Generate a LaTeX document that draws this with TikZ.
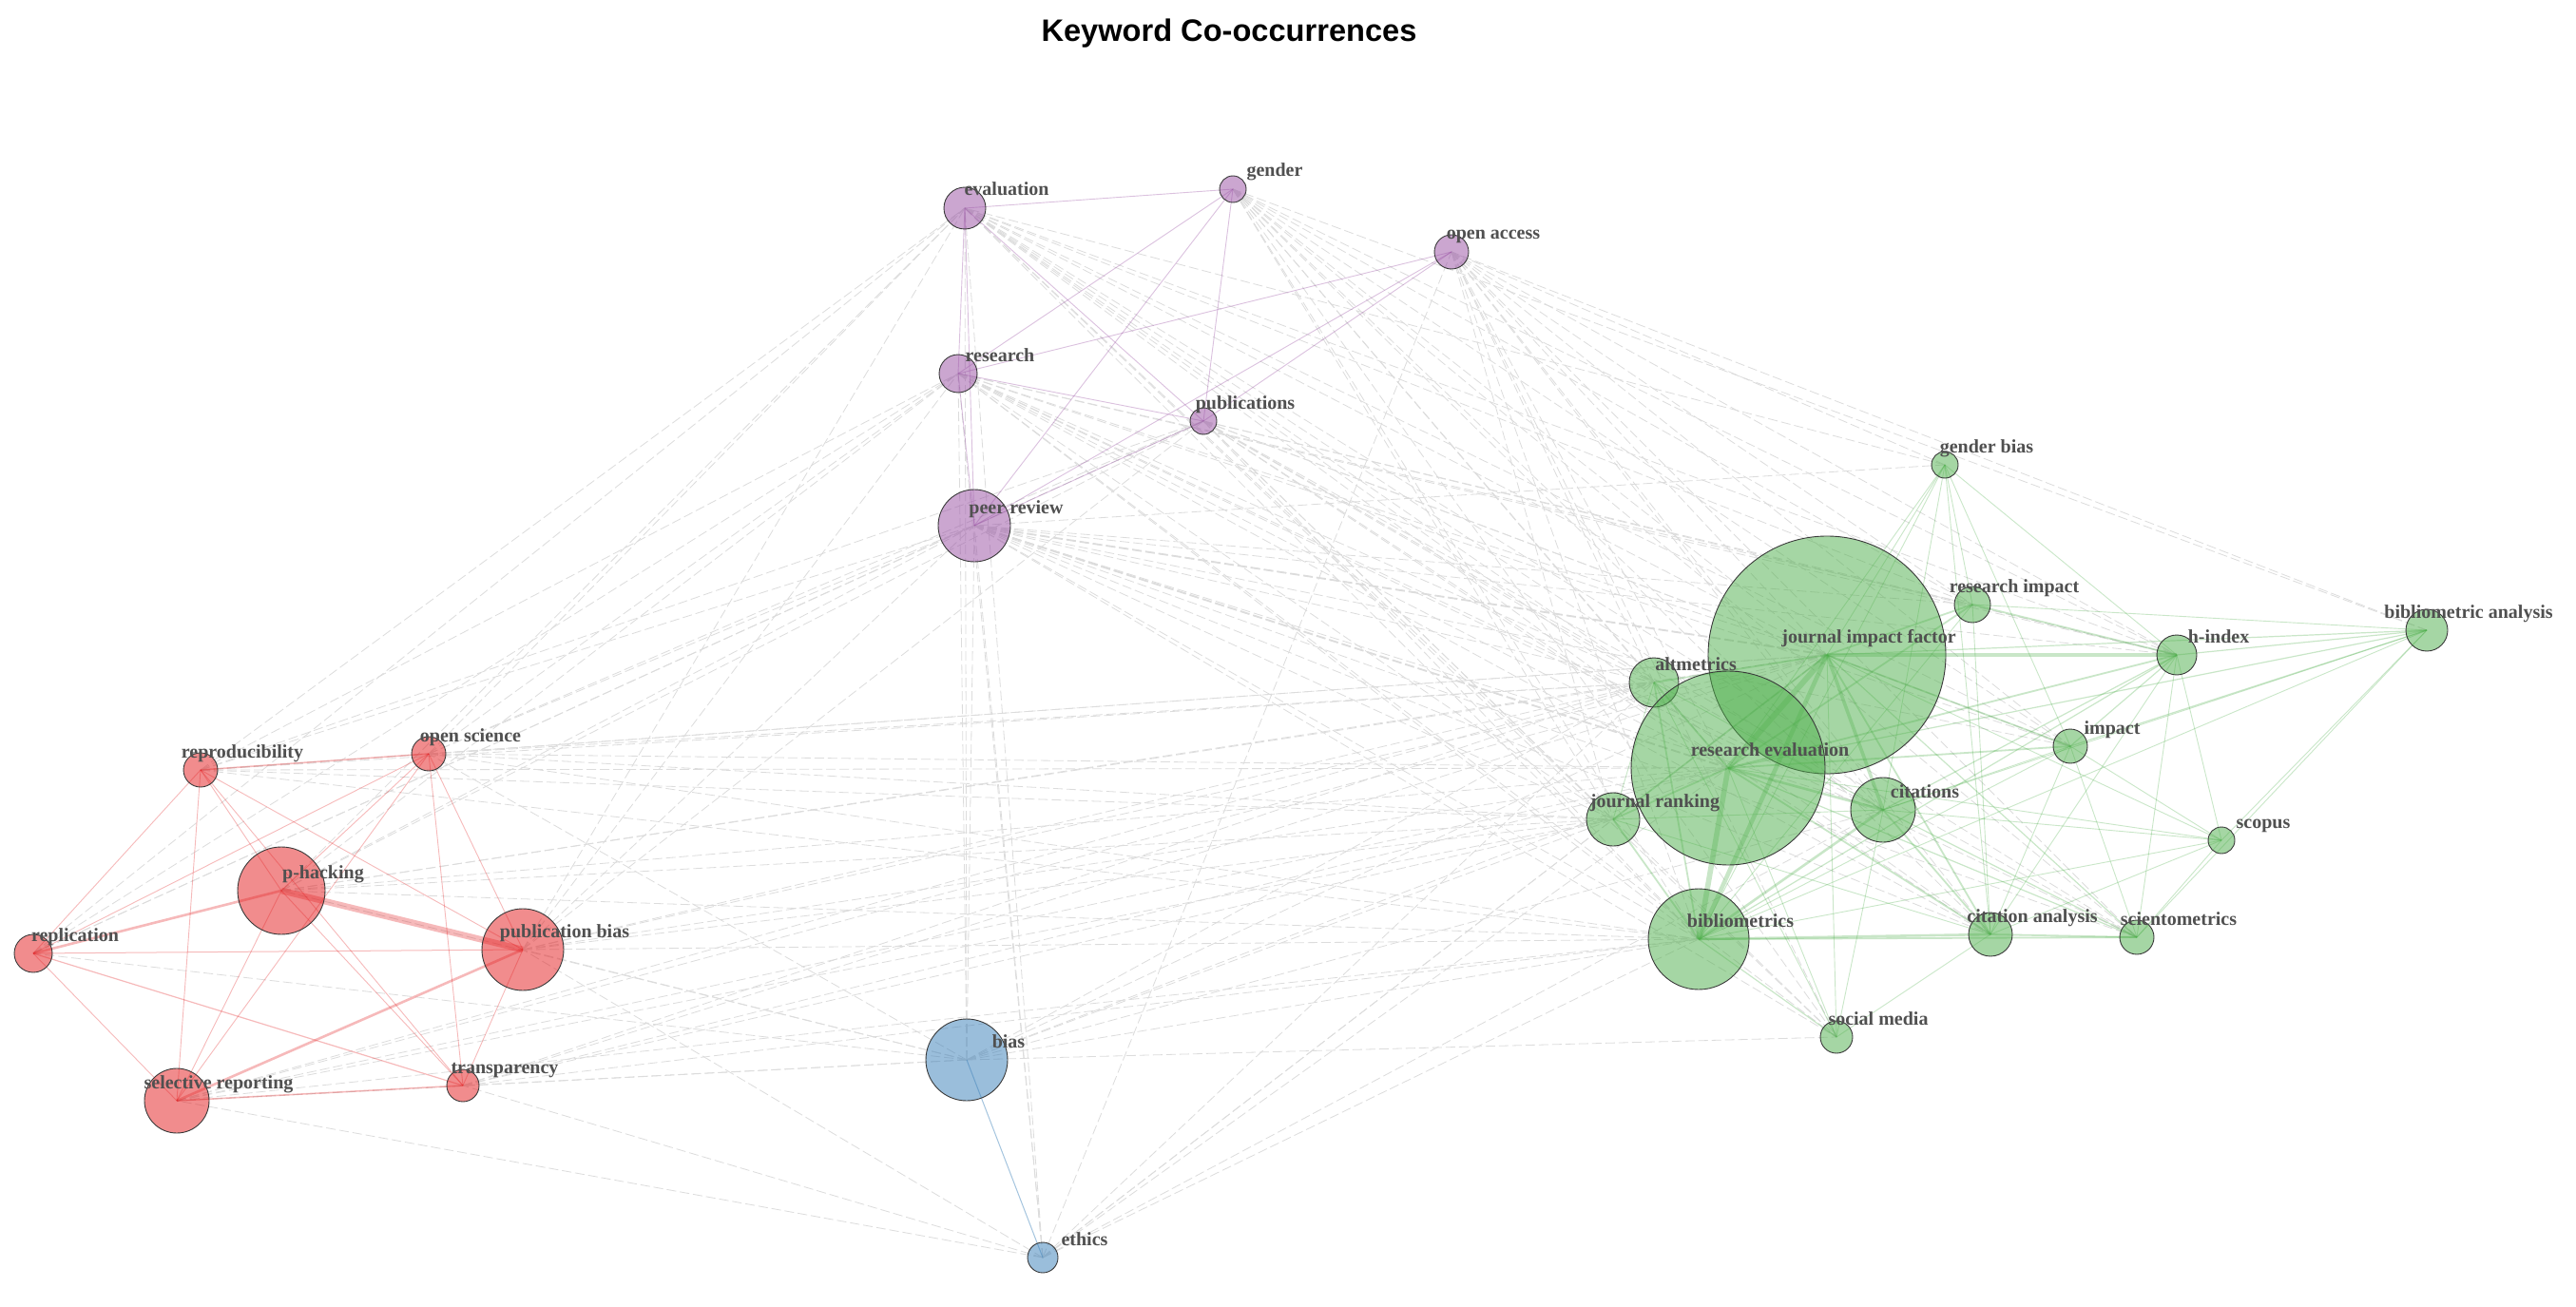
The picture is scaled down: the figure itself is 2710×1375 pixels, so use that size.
\documentclass[tikz,border=0pt]{standalone}
\usepackage{fontspec}
\setmainfont{Liberation Serif}
\newfontfamily\titlefont{Liberation Sans}
\pgfdeclarelayer{bglayer}
\pgfdeclarelayer{edgelayer}
\pgfsetlayers{bglayer,edgelayer,main}
\definecolor{setred}{HTML}{E41A1C}
\definecolor{setblue}{HTML}{377EB8}
\definecolor{setgreen}{HTML}{4DAF4A}
\definecolor{setpurple}{HTML}{984EA3}
\definecolor{edgegray}{HTML}{DCDCDC}
\definecolor{labgray}{HTML}{505050}
\definecolor{rimgray}{HTML}{3A3A3A}
\tikzset{
  kw/.style={circle, inner sep=0pt, draw=rimgray, line width=0.45pt, fill opacity=0.5},
  kwr/.style={kw, fill=setred},
  kwp/.style={kw, fill=setpurple},
  kwb/.style={kw, fill=setblue},
  kwg/.style={kw, fill=setgreen},
  lab/.style={anchor=base, text=labgray, font=\bfseries\fontsize{10}{12}\selectfont, inner sep=0pt},
  xedge/.style={draw=edgegray, line width=0.4pt, dash pattern=on 5pt off 2pt},
  redge/.style={draw=setred, draw opacity=0.3},
  pedge/.style={draw=setpurple, draw opacity=0.35, line width=0.45pt},
  bedge/.style={draw=setblue, draw opacity=0.45, line width=0.5pt},
  gedge/.style={draw=setgreen, draw opacity=0.3},
}
\newcommand\kwlab[2]{\node[lab] (#1l) at ([shift={(44,-13)}]#1.center) {#2};}
\begin{document}
\begin{tikzpicture}[x=0.5pt,y=-0.5pt]
\begin{pgfonlayer}{bglayer}
\fill[white] (0,0) rectangle (2710,1375);
\end{pgfonlayer}
\useasboundingbox (0,0) rectangle (2710,1375);
\node[anchor=base, font=\titlefont\bfseries\fontsize{16.3}{19}\selectfont] (title) at (1293,44) {Keyword Co-occurrences};
% purple
\node[kwp, minimum size=22pt] (eval) at (1015,219) {};
\node[kwp, minimum size=14pt] (gender) at (1297,199) {};
\node[kwp, minimum size=18pt] (oa) at (1527,265) {};
\node[kwp, minimum size=20pt] (res) at (1008,393) {};
\node[kwp, minimum size=14pt] (pub) at (1266,443) {};
\node[kwp, minimum size=38pt] (peer) at (1025,553) {};
% red
\node[kwr, minimum size=18pt] (repro) at (211,810) {};
\node[kwr, minimum size=18pt] (osci) at (451,793) {};
\node[kwr, minimum size=46pt] (phack) at (296,937) {};
\node[kwr, minimum size=20pt] (repl) at (35,1003) {};
\node[kwr, minimum size=43pt] (pbias) at (550,999) {};
\node[kwr, minimum size=34pt] (selrep) at (186,1158) {};
\node[kwr, minimum size=17pt] (transp) at (487,1142) {};
% blue
\node[kwb, minimum size=43pt] (bias) at (1017,1115) {};
\node[kwb, minimum size=16pt] (ethics) at (1097,1323) {};
% green
\node[kwg, minimum size=14pt] (gbias) at (2046,489) {};
\node[kwg, minimum size=19pt] (rimpact) at (2075,636) {};
\node[kwg, minimum size=22pt] (biban) at (2553,663) {};
\node[kwg, minimum size=21pt] (hidx) at (2290,689) {};
\node[kwg, minimum size=26pt] (alt) at (1740,718) {};
\node[kwg, minimum size=18pt] (impact) at (2178,785) {};
\node[kwg, minimum size=28pt] (jrank) at (1697,862) {};
\node[kwg, minimum size=34pt] (cit) at (1981,852) {};
\node[kwg, minimum size=14pt] (scopus) at (2337,884) {};
\node[kwg, minimum size=53pt] (biblio) at (1787,988) {};
\node[kwg, minimum size=23pt] (citan) at (2094,983) {};
\node[kwg, minimum size=18pt] (scient) at (2248,986) {};
\node[kwg, minimum size=17pt] (smedia) at (1932,1091) {};
\node[kwg, minimum size=125pt] (jif) at (1922,689) {};
\node[kwg, minimum size=102pt] (reval) at (1818,808) {};
% labels
\kwlab{eval}{evaluation}
\kwlab{gender}{gender}
\kwlab{oa}{open access}
\kwlab{res}{research}
\kwlab{pub}{publications}
\kwlab{peer}{peer review}
\kwlab{repro}{reproducibility}
\kwlab{osci}{open science}
\kwlab{phack}{p-hacking}
\kwlab{repl}{replication}
\kwlab{pbias}{publication bias}
\kwlab{selrep}{selective reporting}
\kwlab{transp}{transparency}
\kwlab{bias}{bias}
\kwlab{ethics}{ethics}
\kwlab{gbias}{gender bias}
\kwlab{rimpact}{research impact}
\kwlab{biban}{bibliometric analysis}
\kwlab{hidx}{h-index}
\kwlab{alt}{altmetrics}
\kwlab{impact}{impact}
\kwlab{jrank}{journal ranking}
\kwlab{cit}{citations}
\kwlab{scopus}{scopus}
\kwlab{biblio}{bibliometrics}
\kwlab{citan}{citation analysis}
\kwlab{scient}{scientometrics}
\kwlab{smedia}{social media}
\kwlab{jif}{journal impact factor}
\kwlab{reval}{research evaluation}
\begin{pgfonlayer}{edgelayer}
% inter-cluster gray dashed
\foreach \a in {eval,gender,oa,res,pub,peer} {
  \foreach \b in {jif,reval,biblio,cit,alt,jrank,citan,hidx,scient,impact,rimpact,smedia} {
    \draw[xedge] (\a.center) -- (\b.center);
  }
}
\foreach \a in {osci,repro,pbias,phack,transp,selrep} {
  \foreach \b in {jif,reval,biblio,alt,jrank} {
    \draw[xedge] (\a.center) -- (\b.center);
  }
}
\foreach \a in {osci,repro,phack,pbias,repl} {
  \foreach \b in {res,peer,eval,pub} {
    \draw[xedge] (\a.center) -- (\b.center);
  }
}
\foreach \a/\b in {bias/osci,bias/pbias,bias/phack,bias/transp,bias/selrep,bias/repl,
  ethics/transp,ethics/pbias,ethics/selrep,bias/peer,bias/res,bias/eval,
  ethics/peer,ethics/res,ethics/oa,ethics/eval,bias/jif,bias/reval,bias/biblio,
  bias/alt,bias/jrank,bias/cit,bias/smedia,ethics/jif,ethics/reval,ethics/biblio,
  ethics/alt,ethics/jrank,ethics/cit,gbias/peer,gbias/eval,gbias/oa,biban/gender,biban/oa} {
  \draw[xedge] (\a.center) -- (\b.center);
}
\draw[xedge, line width=0.9pt] (peer.center) -- (jif.center);
\draw[xedge, line width=0.9pt] (peer.center) -- (reval.center);
% purple
\foreach \a/\b in {eval/gender,eval/res,eval/peer,eval/pub,gender/res,gender/peer,
  gender/pub,oa/res,oa/peer,oa/pub,res/pub,res/peer,pub/peer} {
  \draw[pedge] (\a.center) -- (\b.center);
}
% red
\foreach \a/\b/\w in {phack/pbias/3.3,phack/repl/1.3,pbias/selrep/1.3,
  repro/osci/0.8,repro/repl/0.45,repro/selrep/0.45,repro/phack/0.45,repro/pbias/0.45,
  repro/transp/0.45,osci/repl/0.45,osci/phack/0.45,osci/selrep/0.45,osci/pbias/0.45,
  osci/transp/0.45,phack/selrep/0.45,phack/transp/0.45,repl/pbias/0.5,repl/transp/0.6,
  repl/selrep/0.45,pbias/transp/0.45,selrep/transp/0.8} {
  \draw[redge, line width=\w pt] (\a.center) -- (\b.center);
}
% blue
\draw[bedge] (bias.center) -- (ethics.center);
% green
\foreach \a/\b/\w in {jif/reval/3,jif/biblio/2.3,reval/biblio/2.8,jif/hidx/1.8,jif/cit/1.8,
  reval/cit/1.3,biblio/cit/1.3,biblio/citan/1.3,citan/scient/0.9,biblio/scient/0.9,
  jif/alt/0.9,reval/alt/0.9,alt/biblio/0.9,jrank/jif/0.9,jrank/reval/0.9,jrank/biblio/0.9,
  jif/rimpact/0.9,reval/rimpact/0.9,rimpact/hidx/0.9,jif/impact/0.9,reval/impact/0.9,
  hidx/impact/0.6,hidx/biban/0.6,hidx/scopus/0.45,hidx/scient/0.45,hidx/citan/0.45,
  hidx/reval/0.9,hidx/biblio/0.6,hidx/cit/0.6,biban/jif/0.6,biban/reval/0.6,
  biban/impact/0.6,biban/cit/0.45,biban/biblio/0.45,biban/rimpact/0.45,biban/scopus/0.45,
  biban/scient/0.45,scopus/jif/0.45,scopus/reval/0.45,scopus/biblio/0.45,scopus/cit/0.45,
  scopus/citan/0.45,scopus/scient/0.45,scopus/impact/0.45,impact/cit/0.45,impact/biblio/0.45,
  impact/citan/0.45,impact/scient/0.45,cit/citan/0.9,cit/scient/0.6,jif/citan/0.9,
  reval/citan/0.9,jif/scient/0.6,reval/scient/0.6,smedia/biblio/0.6,smedia/jif/0.45,
  smedia/reval/0.45,smedia/cit/0.45,smedia/citan/0.45,smedia/alt/0.45,gbias/jif/0.45,
  gbias/reval/0.45,gbias/biblio/0.45,gbias/cit/0.45,gbias/citan/0.45,gbias/hidx/0.45,
  gbias/impact/0.45,gbias/rimpact/0.45,rimpact/citan/0.45,rimpact/biblio/0.45,
  alt/cit/0.45,alt/jrank/0.45,jrank/cit/0.45,jrank/citan/0.45} {
  \draw[gedge, line width=\w pt] (\a.center) -- (\b.center);
}
\end{pgfonlayer}
\end{tikzpicture}
\end{document}
